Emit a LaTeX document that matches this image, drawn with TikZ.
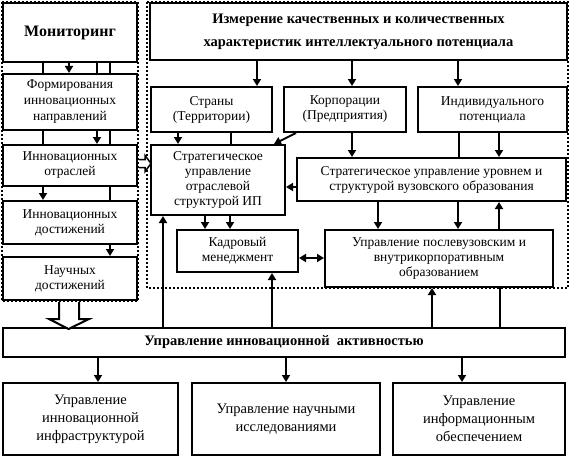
\documentclass[tikz,border=0pt]{standalone}
\usepackage{fontspec}
\setmainfont{Liberation Serif}
\usetikzlibrary{arrows.meta,backgrounds,calc}
\begin{document}
\begin{tikzpicture}[x=1pt,y=-1pt,
  box/.style={draw, line width=2pt, fill=white, align=center, inner sep=0pt,
    font=\fontsize{13.5}{15}\selectfont},
  arr/.style={line width=2pt, -{Triangle[width=8pt,length=7pt]}},
  dbl/.style={line width=2.5pt, {Triangle[width=8pt,length=7pt]}-{Triangle[width=8pt,length=7pt]}},
  ln/.style={line width=2pt},
  dotline/.style={line width=2pt, dash pattern=on 2pt off 2pt},
  hollow/.style={line width=2pt, fill=white, line join=miter}]
\useasboundingbox (0,0) rectangle (570,460);
% left column
\node[box, minimum width=134pt, minimum height=59pt, font=\bfseries\fontsize{16}{18}\selectfont] (mon) at (70,32.5) {Мониторинг};
\node[box, minimum width=134pt, minimum height=56pt, font=\fontsize{13.5}{16}\selectfont] (form) at (70,102) {Формирования\\инновационных\\направлений};
\node[box, minimum width=134pt, minimum height=41pt] (otr) at (70,165.5) {Инновационных\\отраслей};
\node[box, minimum width=134pt, minimum height=43pt] (dost) at (70,222.5) {Инновационных\\достижений};
\node[box, minimum width=134pt, minimum height=43pt] (nauch) at (70,278.5) {Научных\\достижений};
% right region
\node[box, minimum width=417pt, minimum height=57pt, font=\bfseries\fontsize{14.5}{23}\selectfont] (meas) at (358.5,31.5) {Измерение качественных и количественных\\характеристик интеллектуального потенциала};
\node[box, minimum width=121pt, minimum height=45pt] (str) at (211.5,109.5) {Страны\\(Территории)};
\node[box, minimum width=122pt, minimum height=45pt] (korp) at (345,109.5) {Корпорации\\(Предприятия)};
\node[box, minimum width=149pt, minimum height=45pt] (ind) at (492.5,109.5) {Индивидуального\\потенциала};
\node[box, minimum width=134pt, minimum height=70pt] (sip) at (218,180) {Стратегическое\\управление\\отраслевой\\структурой ИП};
\node[box, minimum width=269pt, minimum height=43pt] (suv) at (431.5,179.5) {Стратегическое управление уровнем и\\структурой вузовского образования};
\node[box, minimum width=121pt, minimum height=42pt] (kadr) at (237.5,251) {Кадровый\\менеджмент};
\node[box, minimum width=228pt, minimum height=57pt] (post) at (439,258.5) {Управление послевузовским и\\внутрикорпоративным\\образованием};
% bottom
\node[box, minimum width=562pt, minimum height=29pt, font=\bfseries\fontsize{14.5}{15}\selectfont] (uia) at (284,342.5) {Управление инновационной \ активностью};
\node[box, minimum width=175pt, minimum height=72pt, font=\fontsize{14.5}{18}\selectfont] (b1) at (90.5,419) {Управление\\инновационной\\инфраструктурой};
\node[box, minimum width=188pt, minimum height=72pt, font=\fontsize{14.5}{18}\selectfont] (b2) at (286,419) {Управление научными\\исследованиями};
\node[box, minimum width=172pt, minimum height=72pt, font=\fontsize{14.5}{18}\selectfont] (b3) at (479,419) {Управление\\информационным\\обеспечением};

% coordinates
\coordinate (l43) at ([xshift=-27pt]mon.south);
\coordinate (l69) at ([xshift=-1pt]mon.south);
\coordinate (l97) at ([xshift=27pt]mon.south);
\coordinate (l110) at ([xshift=40pt]mon.south);
\coordinate (t1) at ([xshift=45.5pt]str.north);
\coordinate (t2) at ([xshift=7pt]korp.north);
\coordinate (t3) at ([xshift=-34.5pt]ind.north);
\coordinate (s1) at ([xshift=-33.5pt]str.south);
\coordinate (s2) at ([xshift=19.5pt]str.south);
\coordinate (k1) at ([xshift=7pt]korp.south);
\coordinate (i1) at ([xshift=-33.5pt]ind.south);
\coordinate (i2) at ([xshift=6.5pt]ind.south);
\coordinate (u1) at ([yshift=-7.5pt]suv.west);
\coordinate (p1) at ([xshift=-13pt]sip.south);
\coordinate (p2) at ([xshift=12pt]sip.south);
\coordinate (d1) at ([yshift=-7pt]kadr.east);
\coordinate (v1) at ([xshift=-53.5pt]suv.south);
\coordinate (v2) at ([xshift=26.5pt]suv.south);
\coordinate (v3) at ([xshift=67.5pt]suv.south);
\coordinate (w1) at ([xshift=-121pt]uia.north);
\coordinate (w2) at ([xshift=-12pt]uia.north);
\coordinate (w3) at ([xshift=148pt]uia.north);
\coordinate (w4) at ([xshift=216pt]uia.north);
\coordinate (z1) at ([xshift=-186pt]uia.south);
\coordinate (z2) at ([xshift=2pt]uia.south);
\coordinate (z3) at ([xshift=178pt]uia.south);

\begin{scope}[on background layer]
\fill[white] (0,0) rectangle (570,460);
\draw[dotline] (mon.north west) rectangle (nauch.south east);
\draw[dotline] ([xshift=-2pt]meas.north west) rectangle (post.south -| meas.east);
% left column
\draw[arr] (l43) -- (l43 |- dost.north);
\draw[arr] (l69) -- (l69 |- form.north);
\draw[arr] (l97) -- (l97 |- otr.north);
\draw[arr] (l110) -- (l110 |- nauch.north);
% top
\draw[arr] (t1 |- meas.south) -- (t1);
\draw[arr] (t2 |- meas.south) -- (t2);
\draw[arr] (t3 |- meas.south) -- (t3);
\draw[arr] (s1) -- (s1 |- sip.north);
\draw[ln] (s2) -- (s2 |- sip.north);
\draw[arr] ([xshift=13pt]korp.south west) -- ([xshift=-12pt]sip.north east);
\draw[arr] (k1) -- (k1 |- suv.north);
\draw[ln] (i1) -- (i1 |- suv.north);
\draw[arr] (i2) -- (i2 |- suv.north);
\draw[arr] (u1) -- (u1 -| sip.east);
\draw[arr] (p1) -- (p1 |- kadr.north);
\draw[arr] (p2) -- (p2 |- kadr.north);
\draw[dbl] (d1) -- (d1 -| post.west);
\draw[arr] (v1) -- (v1 |- post.north);
\draw[arr] (v2) -- (v2 |- post.north);
\draw[arr] (v3 |- post.north) -- (v3);
\draw[arr] (w1) -- (w1 |- sip.south);
\draw[arr] (w2) -- (w2 |- kadr.south);
\draw[arr] (w3) -- (w3 |- post.south);
\draw[ln] (w4) -- (w4 |- post.south);
\draw[arr] (z1) -- (z1 |- b1.north);
\draw[arr] (z2) -- (z2 |- b2.north);
\draw[arr] (z3) -- (z3 |- b3.north);
\end{scope}

% hollow arrows
\begin{scope}[shift={(nauch.south)}]
\draw[hollow] (-11,1) -- (-11,18) -- (-21,18) -- (-1.5,28) -- (19,18) -- (9,18) -- (9,1);
\end{scope}
\begin{scope}[shift={(otr.east)}]
\draw[hollow, line width=1.5pt] (1,-6) -- (7,-6) -- (7,-10) -- (13,-2) -- (7,6) -- (7,2) -- (1,2);
\end{scope}
\end{tikzpicture}
\end{document}
